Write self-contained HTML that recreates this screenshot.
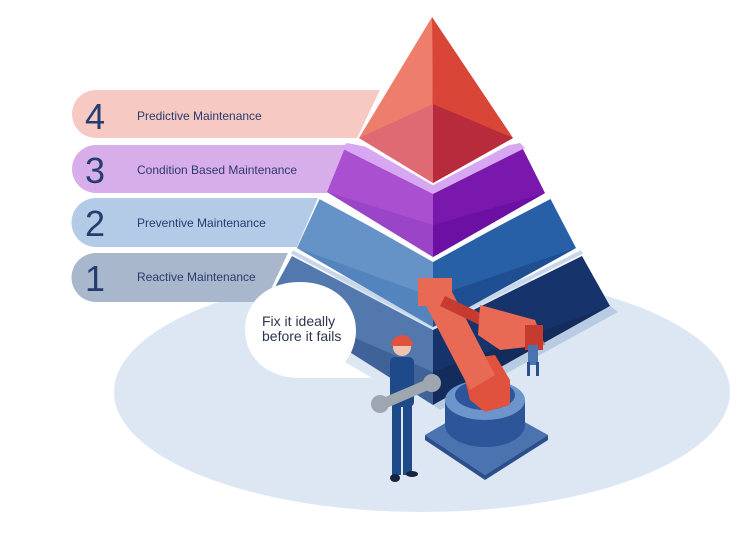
<!DOCTYPE html>
<html><head><meta charset="utf-8"><style>
html,body{margin:0;padding:0;background:#fff;}
svg{display:block;}
.n{font-family:"Liberation Sans",sans-serif;font-size:36px;fill:#253d6e;}
.t{font-family:"Liberation Sans",sans-serif;font-size:12px;fill:#2c3a6e;}
.b{font-family:"Liberation Sans",sans-serif;font-size:14px;fill:#2c3550;}
</style></head><body>
<svg width="754" height="533" viewBox="0 0 754 533" xmlns="http://www.w3.org/2000/svg">
<ellipse cx="422" cy="392" rx="308" ry="120" fill="#dde7f3"/>
<path d="M96,90 H380 L357,138 H96 A24,24 0 0 1 96,90Z" fill="#f6c9c3"/>
<path d="M96,145 H350 L327,193 H96 A24,24 0 0 1 96,145Z" fill="#d7aeea"/>
<path d="M96,198 H318 L297,247 H96 A24.5,24.5 0 0 1 96,198Z" fill="#b3cbe6"/>
<path d="M96,253 H288 L265,302 H96 A24.5,24.5 0 0 1 96,253Z" fill="#a8b7cc"/>
<text class="n" x="85" y="129">4</text>
<text class="n" x="85" y="183">3</text>
<text class="n" x="85" y="236">2</text>
<text class="n" x="85" y="291">1</text>
<text class="t" x="137" y="120">Predictive Maintenance</text>
<text class="t" x="137" y="174">Condition Based Maintenance</text>
<text class="t" x="137" y="227">Preventive Maintenance</text>
<text class="t" x="137" y="281">Reactive Maintenance</text>
<polygon points="292,256 433,330 433,405 268,300" fill="#5278ae"/>
<polygon points="433,330 582,256 610,306 433,405" fill="#17336b"/>
<polygon points="268,300 433,372 433,405" fill="#3f6298"/>
<polygon points="610,306 433,372 433,405" fill="#132c5c"/>
<polygon points="610,306 618,312 440,410 433,405" fill="#b8cbe2"/>
<polyline points="292,252 433,326 582,252" fill="none" stroke="#c7d6ea" stroke-width="4"/>
<polygon points="320,198 433,262 433,327 297,248" fill="#6593c8"/>
<polygon points="433,262 550,198 576,248 433,327" fill="#2860a8"/>
<polygon points="297,248 433,297 433,327" fill="#5384bd"/>
<polygon points="576,248 433,297 433,327" fill="#1f4f92"/>
<polyline points="318,196 433,258 552,196" fill="none" stroke="#fff" stroke-width="4"/>
<polygon points="347,143 433,190 433,257 327,192" fill="#a94fd0"/>
<polygon points="433,190 520,143 545,193 433,257" fill="#7a18ad"/>
<polygon points="327,192 433,225 433,257" fill="#9a44c8"/>
<polygon points="545,193 433,225 433,257" fill="#6c0fa3"/>
<polygon points="433,160 520,143 525,148 433,194 341,148 347,143" fill="#d7a7f2"/>
<polyline points="356,139 433,183 516,139" fill="none" stroke="#fff" stroke-width="4"/>
<polygon points="432,17 433,183 359,138" fill="#ee7e6c"/>
<polygon points="432,17 513,138 433,183" fill="#d94537"/>
<polygon points="359,138 433,104 433,183" fill="#e06a73"/>
<polygon points="513,138 433,104 433,183" fill="#b82b3d"/>
<path d="M300,282 C335,282 356,305 356,330 C356,345 350,356 345,362 L372,378 L300,378 C266,378 245,356 245,330 C245,303 266,282 300,282Z" fill="#fff"/>
<text class="b" x="262" y="326">Fix it ideally</text>
<text class="b" x="262" y="341">before it fails</text>
<polygon points="425,435 485,400 548,435 485,475" fill="#4a73b0"/>
<polygon points="425,435 485,475 485,480 425,440" fill="#2b4f8c"/>
<polygon points="548,435 485,475 485,480 548,440" fill="#2b4f8c"/>
<ellipse cx="485" cy="425" rx="40" ry="22" fill="#2d569a"/>
<rect x="445" y="400" width="80" height="25" fill="#2d569a"/>
<ellipse cx="485" cy="400" rx="40" ry="20" fill="#6d95cb"/>
<ellipse cx="485" cy="395" rx="30" ry="15" fill="#2d569a"/>
<polygon points="460,360 495,355 510,380 510,405 485,412 470,400" fill="#e0513e"/>
<polygon points="422,298 450,288 495,375 470,390" fill="#e86a55"/>
<rect x="418" y="278" width="34" height="28" fill="#e86a55"/>
<polygon points="445,296 495,320 490,330 440,306" fill="#c53b30"/>
<polygon points="480,305 535,320 545,345 500,350 478,335" fill="#e86a55"/>
<rect x="525" y="325" width="18" height="25" fill="#c53b30"/>
<rect x="528" y="345" width="10" height="20" fill="#4a73b0"/>
<rect x="527" y="362" width="3" height="14" fill="#2b4f8c"/>
<rect x="536" y="362" width="3" height="14" fill="#2b4f8c"/>
<circle cx="402" cy="347" r="9" fill="#f2c3b0"/>
<path d="M391,346 A11,11 0 0 1 413,346 Z" fill="#e0513e"/>
<rect x="390" y="357" width="24" height="50" rx="5" fill="#1f4a8a"/>
<rect x="392" y="405" width="9" height="70" fill="#1f4a8a"/>
<rect x="403" y="405" width="9" height="70" fill="#1f4a8a"/>
<ellipse cx="395" cy="478" rx="5" ry="4" fill="#16233d"/>
<ellipse cx="412" cy="474" rx="6" ry="3" fill="#16233d"/>
<polygon points="378,400 430,378 433,388 382,410" fill="#9ea7b0"/>
<circle cx="380" cy="404" r="9" fill="#9ea7b0"/>
<circle cx="432" cy="383" r="9" fill="#9ea7b0"/>
</svg>
</body></html>
